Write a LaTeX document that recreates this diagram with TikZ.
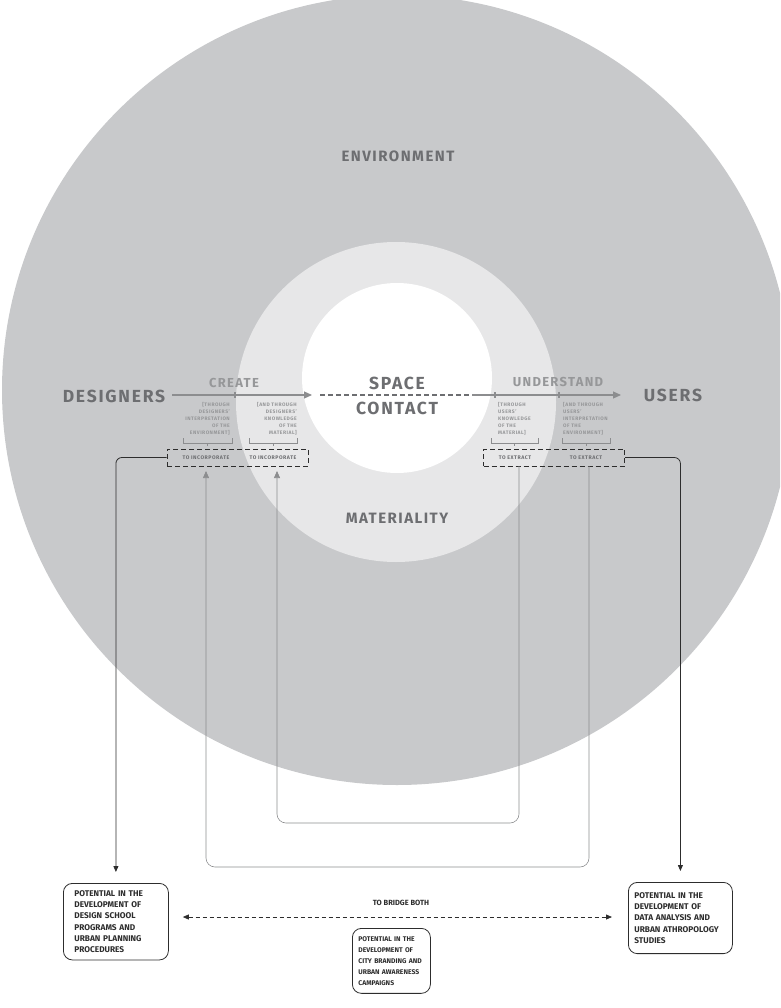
\documentclass[tikz,border=0pt]{standalone}
\usepackage{fontspec}
\setmainfont{Fira Sans}
\newfontfamily\trackfont[LetterSpace=10]{Fira Sans}
\usetikzlibrary{arrows.meta,positioning,calc}

\definecolor{envgray}{RGB}{200,201,203}
\definecolor{ringgray}{RGB}{231,231,232}
\definecolor{labelgray}{RGB}{109,110,113}
\definecolor{softgray}{RGB}{150,151,153}
\definecolor{linegray}{RGB}{140,141,143}
\definecolor{inkgray}{RGB}{45,45,45}

% bracket under a note: left x, right x, y
\newcommand{\bracemark}[3]{%
  \draw[linegray, line width=0.6pt] (#1,#3-5) -- (#1,#3) -- (#2,#3) -- (#2,#3-5);
  \draw[linegray, line width=0.6pt] ({(#1+#2)/2},#3) -- ++(0,3);}

\begin{document}
\begin{tikzpicture}[x=1pt, y=-1pt,
  bigword/.style={font=\trackfont\bfseries\fontsize{17.5}{20}\selectfont, text=labelgray, inner sep=0pt, anchor=base},
  fieldword/.style={font=\trackfont\bfseries\fontsize{15}{18}\selectfont, text=labelgray, inner sep=0pt, anchor=base},
  verbword/.style={font=\trackfont\bfseries\fontsize{13}{15}\selectfont, text=softgray, inner sep=0pt, anchor=base},
  note/.style={font=\trackfont\bfseries\fontsize{5}{7}\selectfont, text=softgray, inner sep=0pt},
  tasklabel/.style={font=\trackfont\bfseries\fontsize{5.2}{6}\selectfont, text=labelgray, inner sep=0pt},
  dashbox/.style={draw=inkgray, dash pattern=on 5pt off 3pt, line width=1pt, minimum width=141pt, minimum height=17pt, inner sep=0pt},
  flow/.style={draw=linegray, line width=1.1pt},
  flowtip/.style={-{Triangle[length=8pt,width=7pt]}},
  loopline/.style={draw=linegray, line width=0.6pt, rounded corners=9pt, -{Triangle[length=7pt,width=6pt]}},
  linkline/.style={draw=inkgray, line width=0.8pt, rounded corners=6pt, -{Triangle[length=6pt,width=5pt]}},
  potential/.style={draw=inkgray, line width=0.8pt, rounded corners=9pt, align=left, font=\bfseries\fontsize{8.3}{11.3}\selectfont, text=inkgray, inner xsep=11pt, inner ysep=7pt, anchor=north west}
]
  \clip (0,0) rectangle (780,1008);

  % Define circles
  \fill[envgray] (397,390) circle[radius=395];
  \fill[ringgray] (396,402) circle[radius=160];
  \fill[white] (397,378) circle[radius=95];

  % Circle labels
  \node[fieldword] (environment) at (398,162) {ENVIRONMENT};
  \node[bigword] (space) at (397,389) {SPACE};
  \node[bigword] (contact) at (397,414) {CONTACT};
  \node[fieldword] (materiality) at (397,523) {MATERIALITY};

  % Actors and verbs
  \node[bigword, outer xsep=7pt] (designers) at (114,402) {DESIGNERS};
  \node[bigword] (users) at (673,401) {USERS};
  \node[verbword] (create) at (234,387) {CREATE};
  \node[verbword] (understand) at (558,386) {UNDERSTAND};

  % Main flow
  \coordinate (createtip) at (312,395);
  \coordinate (contactin) at (320,395);
  \coordinate (contactout) at (472,395);
  \coordinate (understandtip) at (621,395);
  \draw[flow, flowtip] (designers.east |- createtip) -- (createtip);
  \draw[draw=labelgray, line width=1.1pt, dash pattern=on 5pt off 3pt] (contactin) -- (contactout);
  \draw[flow, flowtip] (contactout) -- (understandtip);
  \draw[flow] (235,392) -- (235,398);
  \draw[flow] (495,392) -- (495,398);
  \draw[flow] (559,392) -- (559,398);

  % Notes under the flow
  \node[note, anchor=north east, align=right] (noteA) at (230,402) {[THROUGH\\DESIGNERS’\\INTERPRETATION\\OF THE\\ENVIRONMENT]};
  \node[note, anchor=north east, align=right] (noteB) at (297,402) {[AND THROUGH\\DESIGNERS’\\KNOWLEDGE\\OF THE\\MATERIAL]};
  \node[note, anchor=north west, align=left] (noteC) at (498,402) {[THROUGH\\USERS’\\KNOWLEDGE\\OF THE\\MATERIAL]};
  \node[note, anchor=north west, align=left] (noteD) at (563,402) {[AND THROUGH\\USERS’\\INTERPRETATION\\OF THE\\ENVIRONMENT]};
  \bracemark{183}{232}{443}
  \bracemark{249}{297}{443}
  \bracemark{491}{538}{443}
  \bracemark{562}{610}{443}

  % Dashed task boxes
  \node[dashbox] (incorporate) at (237.5,457.5) {};
  \node[dashbox] (extract) at (554,457.5) {};
  \node[tasklabel] (incA) at (206,458) {TO INCORPORATE};
  \node[tasklabel] (incB) at (273,458) {TO INCORPORATE};
  \node[tasklabel] (extA) at (515,458) {TO EXTRACT};
  \node[tasklabel] (extB) at (586,458) {TO EXTRACT};

  % Feedback loops
  \coordinate (innerstart) at (519,466);
  \coordinate (innertip) at (277,471);
  \coordinate (innerbase) at (0,823);
  \coordinate (outerstart) at (589,466);
  \coordinate (outertip) at (206,471);
  \coordinate (outerbase) at (0,867);
  \draw[loopline] (innerstart) -- (innerstart |- innerbase) -| (innertip);
  \draw[loopline] (outerstart) -- (outerstart |- outerbase) -| (outertip);

  % Potential boxes
  \node[potential, text width=83pt] (designbox) at (63,883) {POTENTIAL IN THE\\DEVELOPMENT OF\\DESIGN SCHOOL\\PROGRAMS AND\\URBAN PLANNING\\PROCEDURES};
  \node[potential, text width=92pt, inner xsep=6pt, inner ysep=10pt] (databox) at (628,882) {POTENTIAL IN THE\\DEVELOPMENT OF\\DATA ANALYSIS AND\\URBAN ATHROPOLOGY\\STUDIES};
  \node[potential, text width=66pt, inner xsep=6pt, inner ysep=8pt, font=\bfseries\fontsize{6.8}{11}\selectfont] (citybox) at (352,928) {POTENTIAL IN THE\\DEVELOPMENT OF\\CITY BRANDING AND\\URBAN AWARENESS\\CAMPAIGNS};

  % Links to the boxes
  \draw[linkline, shorten >=11pt] (incorporate.west) -| (designbox.north);
  \draw[linkline, shorten >=11pt] (extract.east) -| (databox.north);

  % Bridge
  \node[font=\bfseries\fontsize{7.5}{9}\selectfont, text=inkgray] (bridge) at (401,903) {TO BRIDGE BOTH};
  \coordinate (bridgey) at (0,917);
  \draw[inkgray, line width=0.8pt, dash pattern=on 4pt off 3pt, {Triangle[length=6pt,width=5pt]}-{Triangle[length=6pt,width=5pt]}, shorten <=14pt, shorten >=16pt] (designbox.east |- bridgey) -- (databox.west |- bridgey);
\end{tikzpicture}
\end{document}
